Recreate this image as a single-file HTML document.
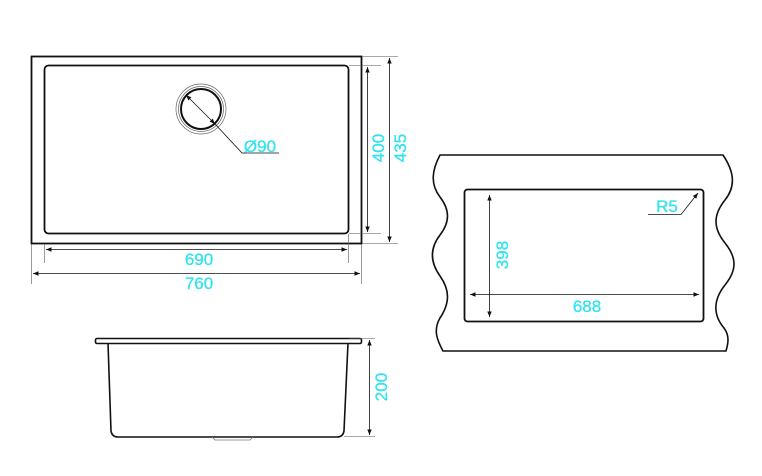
<!DOCTYPE html>
<html><head><style>
html,body{margin:0;padding:0;background:#fff;}
svg{display:block;}
text{font-family:"Liberation Sans",sans-serif;font-size:17px;fill:#2fe3f0;stroke:#2fe3f0;stroke-width:0.3;}
</style></head><body>
<svg width="762" height="476" viewBox="0 0 762 476" xmlns="http://www.w3.org/2000/svg">
<defs>
<marker id="a" viewBox="0 0 10 10" refX="10" refY="5" markerWidth="7" markerHeight="7" orient="auto-start-reverse"><path d="M0,1 L10,5 L0,9 z" fill="#111"/></marker>
</defs>
<g fill="none" stroke="#111">
<rect x="31.5" y="56.5" width="330" height="187" stroke-width="1.8"/>
<rect x="44.5" y="65.5" width="304" height="168" rx="4" stroke-width="1.8"/>
<circle cx="201" cy="109" r="25" stroke-width="0.7" stroke="#666"/>
<circle cx="201" cy="109" r="22.5" stroke-width="0.7" stroke="#666"/>
<circle cx="201" cy="109" r="20" stroke-width="2"/>
<line x1="186" y1="95" x2="215" y2="124" stroke-width="0.8" marker-start="url(#a)" marker-end="url(#a)"/>
<polyline points="215,124 242,153 279,153" stroke-width="0.8"/>
<g stroke-width="0.6" stroke="#555">
<line x1="349" y1="65.5" x2="381" y2="65.5"/><line x1="349" y1="233.5" x2="381" y2="233.5"/>
<line x1="362" y1="56.5" x2="398" y2="56.5"/><line x1="362" y1="243.5" x2="398" y2="243.5"/>
<line x1="44.5" y1="244" x2="44.5" y2="263"/><line x1="348.5" y1="234" x2="348.5" y2="263"/>
<line x1="31.5" y1="244" x2="31.5" y2="284"/><line x1="361.5" y1="244" x2="361.5" y2="284"/>
</g>
<line x1="367.5" y1="67" x2="367.5" y2="232" stroke-width="0.8" marker-start="url(#a)" marker-end="url(#a)"/>
<line x1="389.5" y1="58" x2="389.5" y2="242" stroke-width="0.8" marker-start="url(#a)" marker-end="url(#a)"/>
<line x1="46" y1="249.5" x2="347" y2="249.5" stroke-width="0.8" marker-start="url(#a)" marker-end="url(#a)"/>
<line x1="33" y1="273.5" x2="360" y2="273.5" stroke-width="0.8" marker-start="url(#a)" marker-end="url(#a)"/>
<rect x="95.5" y="338.5" width="266" height="5" rx="1.5" stroke-width="1.6"/>
<path d="M108,343 L111,431 Q112,437 118,437 L337,437 Q343,437 344,431 L348,343" stroke-width="1.6"/>
<path d="M212,437 L215,440 L250,440 L253,437" stroke-width="0.8" stroke="#777"/>
<line x1="349" y1="338.5" x2="375" y2="338.5" stroke-width="0.6" stroke="#555"/>
<line x1="344" y1="436.5" x2="375" y2="436.5" stroke-width="0.6" stroke="#555"/>
<line x1="369.5" y1="340" x2="369.5" y2="435" stroke-width="0.8" marker-start="url(#a)" marker-end="url(#a)"/>
<path d="M440,155 L723,155 C733,170 737,185 725,200 C713,215 713,228 725,243 C737,258 737,270 725,285 C713,300 713,315 724,328 C730,336 728,344 726,351 L443,351 C437,340 433,330 440,318 C450,303 450,290 440,276 C430,262 430,248 440,235 C450,222 450,210 440,197 C430,184 432,170 440,155 Z" stroke-width="1.6"/>
<rect x="464.5" y="189.5" width="239" height="132" rx="3" stroke-width="1.8"/>
<line x1="489.5" y1="195" x2="489.5" y2="317" stroke-width="0.8" marker-start="url(#a)" marker-end="url(#a)"/>
<line x1="470" y1="294.5" x2="699" y2="294.5" stroke-width="0.8" marker-start="url(#a)" marker-end="url(#a)"/>
<polyline points="648,214.5 681,214.5 698,193" stroke-width="0.8" marker-end="url(#a)"/>
</g>
<text x="260" y="152" text-anchor="middle">Ø90</text>
<text x="199" y="265" text-anchor="middle">690</text>
<text x="199" y="289" text-anchor="middle">760</text>
<text transform="translate(384,148) rotate(-90)" text-anchor="middle">400</text>
<text transform="translate(406,148) rotate(-90)" text-anchor="middle">435</text>
<text transform="translate(387,387) rotate(-90)" text-anchor="middle">200</text>
<text transform="translate(508,255) rotate(-90)" text-anchor="middle">398</text>
<text x="587" y="312" text-anchor="middle">688</text>
<text x="667" y="212" text-anchor="middle">R5</text>
</svg>
</body></html>
